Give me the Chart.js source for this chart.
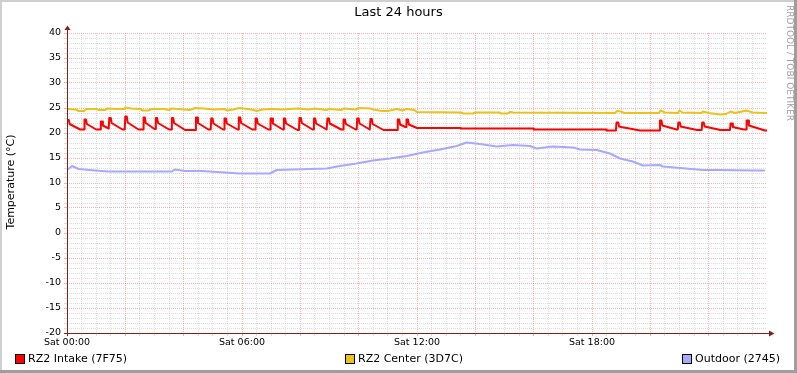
<!DOCTYPE html>
<html>
<head>
<meta charset="utf-8">
<script src="https://cdn.jsdelivr.net/npm/chart.js@4/dist/chart.umd.min.js"></script>
<style>
html,body{margin:0;padding:0;background:#fff;}
canvas{display:block;}
</style>
</head>
<body>
<canvas id="c" width="797" height="373"></canvas>
<script>
// ---- data (hours since Sat 00:00, °C) ----
const chartTitle = "Last 24 hours";
const yAxisTitle = "Temperature (°C)";
const xTickLabels = ["Sat 00:00", "Sat 06:00", "Sat 12:00", "Sat 18:00"];
const seriesNames = ["RZ2 Intake (7F75)", "RZ2 Center (3D7C)", "Outdoor (2745)"];

const intakePoints = [
[0,22.6],[0.06,22.6],[0.09,21.8],[0.45,20.7],
[0.583,20.7],[0.6,22.7],[0.65,22.7],[0.68,21.8],[1.0,20.7],
[1.142,20.7],[1.16,22.3],[1.2,22.3],[1.23,21.5],[1.43,20.9],
[1.45,23.0],[1.5,23.0],[1.53,22.0],[1.9,20.7],
[1.978,20.7],[2.0,23.3],[2.05,23.3],[2.08,22.1],[2.45,20.7],
[2.606,20.7],[2.625,23.1],[2.67,23.1],[2.7,22.0],[3.0,20.8],
[3.027,20.8],[3.045,23.0],[3.09,23.0],[3.12,22.0],[3.5,20.7],
[3.576,20.7],[3.595,23.0],[3.64,23.0],[3.67,22.0],[4.05,20.6],
[4.399,20.6],[4.42,23.1],[4.46,23.1],[4.49,22.0],[4.85,20.7],
[4.927,20.7],[4.945,22.9],[4.99,22.9],[5.02,21.9],[5.35,20.7],
[5.383,20.7],[5.4,22.9],[5.45,22.9],[5.48,21.9],[5.85,20.7],
[5.873,20.7],[5.89,23.1],[5.94,23.1],[5.97,22.0],[6.35,20.7],
[6.446,20.7],[6.465,22.9],[6.51,22.9],[6.54,21.9],[6.9,20.7],
[6.96,20.7],[6.98,22.9],[7.03,22.9],[7.06,21.9],[7.4,20.7],
[7.416,20.7],[7.435,22.9],[7.48,22.9],[7.51,21.9],[7.9,20.6],
[7.954,20.6],[7.97,23.0],[8.02,23.0],[8.05,22.0],[8.42,20.7],
[8.445,20.7],[8.465,22.9],[8.51,22.9],[8.54,21.9],[8.9,20.7],
[8.914,20.7],[8.93,22.9],[8.98,22.9],[9.01,21.9],[9.4,20.7],
[9.463,20.7],[9.48,22.7],[9.53,22.7],[9.56,21.8],[9.9,20.7],
[9.932,20.7],[9.95,22.9],[10.0,22.9],[10.03,21.9],[10.38,20.7],
[10.388,20.7],[10.405,22.8],[10.45,22.8],[10.48,21.8],[10.85,20.6],
[11.324,20.6],[11.34,22.7],[11.39,22.7],[11.42,21.7],[11.6,21.2],
[11.623,21.2],[11.64,22.7],[11.69,22.7],[11.72,21.7],[12.0,21.0],
[13.5,21.0],[13.5,20.9],[16.0,20.9],[16.0,20.7],[18.5,20.7],[18.5,20.5],[18.82,20.5],
[18.84,22.1],[18.9,22.1],[18.93,21.3],[19.0,21.2],[19.65,20.5],
[20.31,20.5],[20.33,22.5],[20.38,22.5],[20.41,21.5],[20.9,20.7],
[20.94,20.7],[20.96,22.1],[21.01,22.1],[21.04,21.3],[21.6,20.6],
[21.76,20.6],[21.78,22.1],[21.83,22.1],[21.86,21.3],[22.4,20.6],
[22.73,20.6],[22.75,21.9],[22.8,21.9],[22.83,21.2],[23.2,20.7],
[23.28,20.7],[23.3,22.5],[23.35,22.5],[23.38,21.5],[23.93,20.5],[24,20.5]
];

const centerPoints = [
[0,24.8],[0.3,24.7],[0.4,24.4],[0.6,24.4],[0.65,24.8],[1.0,24.8],[1.1,24.6],[1.3,24.6],
[1.4,24.9],[1.7,24.8],[1.95,24.8],[2.0,25.1],[2.2,24.9],[2.5,24.8],[2.6,24.5],[2.8,24.5],
[2.9,24.8],[3.3,24.8],[3.5,24.6],[3.6,24.9],[4.0,24.7],[4.2,24.6],[4.4,25.0],[4.7,24.9],
[5.0,24.7],[5.4,24.8],[5.5,24.5],[5.7,24.7],[5.9,25.0],[6.2,24.8],[6.4,24.6],[6.5,24.4],
[6.7,24.7],[7.0,24.8],[7.4,24.7],[7.9,24.9],[8.3,24.7],[8.5,24.9],[8.9,24.6],[9.0,24.8],
[9.4,24.6],[9.5,24.9],[9.9,24.7],[10.0,25.0],[10.4,24.9],[10.5,24.7],[10.8,24.4],[11.0,24.4],
[11.3,24.8],[11.5,24.5],[11.65,24.8],[11.9,24.6],[12.0,24.2],[13.5,24.1],[13.6,23.9],[13.9,23.9],
[14.0,24.1],[14.8,24.1],[14.9,23.9],[15.1,23.9],[15.2,24.2],[15.3,24.1],[18.8,24.0],[18.85,24.4],
[19.0,24.3],[19.1,24.0],[20.3,24.0],[20.35,24.5],[20.5,24.1],[20.95,24.0],[21.0,24.5],[21.1,24.1],
[21.75,24.0],[21.8,24.3],[22.0,24.0],[22.4,23.7],[22.6,23.8],[22.75,24.3],[22.9,24.0],[23.3,24.5],
[23.5,24.1],[24,24.0]
];

const outdoorPoints = [
[0,12.6],[0.17,13.4],[0.4,12.8],[0.97,12.5],[1.43,12.3],[3.6,12.3],[3.7,12.7],[4.05,12.4],
[4.63,12.4],[5.66,12.0],[5.93,11.9],[6.96,11.9],[7.19,12.6],[8.33,12.8],[8.9,12.9],[9.36,13.4],
[9.93,13.9],[10.49,14.5],[11.07,14.9],[11.65,15.4],[12.2,16.1],[12.79,16.7],[13.36,17.4],[13.7,18.1],
[14.16,17.8],[14.73,17.3],[15.29,17.6],[15.87,17.4],[16.1,16.9],[16.66,17.3],[17.35,17.1],[17.59,16.7],
[18.16,16.6],[18.62,15.9],[18.96,14.9],[19.4,14.3],[19.75,13.5],[20.33,13.6],[20.43,13.3],[21.02,13.0],
[21.8,12.6],[22.39,12.6],[23.52,12.5],[23.93,12.5]
];

const seriesColors = ["#FF0000", "#EBC21C", "#A8A8FF"];

// ---- chart ----
const toXY = arr => arr.map(p => ({x: p[0], y: p[1]}));
const FONT = "'DejaVu Sans', sans-serif";
const MINOR = "rgba(150,150,150,0.32)";
const MAJOR = "rgba(225,110,110,0.5)";

const decor = {
  id: "decor",
  afterDraw(chart) {
    const ctx = chart.ctx;
    const ca = chart.chartArea;
    ctx.save();
    // frame shading
    ctx.fillStyle = "#CFCFCF";
    ctx.fillRect(0, 0, 797, 2);
    ctx.fillRect(0, 0, 2, 373);
    ctx.fillStyle = "#9E9E9E";
    ctx.fillRect(0, 370, 797, 3);
    ctx.fillRect(794, 0, 3, 373);
    // axes
    ctx.strokeStyle = "#802020";
    ctx.fillStyle = "#802020";
    ctx.lineWidth = 1;
    ctx.beginPath();
    ctx.moveTo(ca.left + 0.5, ca.bottom + 3);
    ctx.lineTo(ca.left + 0.5, ca.top - 4);
    ctx.moveTo(ca.left - 3, ca.bottom + 0.5);
    ctx.lineTo(ca.right + 4, ca.bottom + 0.5);
    ctx.stroke();
    ctx.beginPath();
    ctx.moveTo(ca.left - 2.5, ca.top - 3);
    ctx.lineTo(ca.left + 3.5, ca.top - 3);
    ctx.lineTo(ca.left + 0.5, ca.top - 7.5);
    ctx.closePath();
    ctx.fill();
    ctx.beginPath();
    ctx.moveTo(ca.right + 2, ca.bottom - 2.5);
    ctx.lineTo(ca.right + 2, ca.bottom + 3.5);
    ctx.lineTo(ca.right + 7.5, ca.bottom + 0.5);
    ctx.closePath();
    ctx.fill();
    // title
    ctx.fillStyle = "#000";
    ctx.font = "13px " + FONT;
    ctx.textAlign = "center";
    ctx.textBaseline = "middle";
    ctx.fillText(chartTitle, 398.5, 13);
    // y axis title
    ctx.save();
    ctx.translate(11, 182);
    ctx.rotate(-Math.PI / 2);
    ctx.font = "11px " + FONT;
    ctx.fillText(yAxisTitle, 0, 0);
    ctx.restore();
    // watermark
    ctx.save();
    ctx.translate(789, 5);
    ctx.rotate(Math.PI / 2);
    ctx.font = "9px " + FONT;
    ctx.fillStyle = "#A0A0A0";
    ctx.textAlign = "left";
    ctx.fillText("RRDTOOL / TOBI OETIKER", 0, 0);
    ctx.restore();
    // legend
    const lx = [15, 345, 682];
    ctx.font = "11px " + FONT;
    ctx.textAlign = "left";
    ctx.textBaseline = "middle";
    for (let i = 0; i < 3; i++) {
      ctx.fillStyle = seriesColors[i];
      ctx.fillRect(lx[i], 354, 9, 9);
      ctx.strokeStyle = "#000";
      ctx.strokeRect(lx[i] + 0.5, 354.5, 9, 9);
      ctx.fillStyle = "#000";
      ctx.fillText(seriesNames[i], lx[i] + 13, 359);
    }
    ctx.restore();
  }
};

new Chart(document.getElementById("c"), {
  type: "line",
  data: {
    datasets: [
      {label: seriesNames[0], data: toXY(intakePoints), borderColor: seriesColors[0]},
      {label: seriesNames[1], data: toXY(centerPoints), borderColor: seriesColors[1]},
      {label: seriesNames[2], data: toXY(outdoorPoints), borderColor: seriesColors[2]}
    ]
  },
  options: {
    responsive: false,
    animation: false,
    devicePixelRatio: 1,
    layout: {padding: {left: 0, top: 33, right: 30, bottom: 20}},
    elements: {
      line: {borderWidth: 2, tension: 0, borderJoinStyle: "round", borderCapStyle: "butt"},
      point: {radius: 0}
    },
    plugins: {legend: {display: false}, title: {display: false}, tooltip: {enabled: false}},
    scales: {
      x: {
        type: "linear", min: 0, max: 24,
        afterFit: s => { s.height = 20; },
        border: {display: false, dash: [1, 1]},
        grid: {
          color: c => (c.tick.value >= 24 ? "rgba(0,0,0,0)" : (c.tick.value % 2 === 0 ? MAJOR : MINOR)),
          tickColor: c => (c.tick.value >= 24 ? "rgba(0,0,0,0)" : (c.tick.value % 2 === 0 ? MAJOR : MINOR)),
          tickLength: 3, lineWidth: 1
        },
        ticks: {
          stepSize: 0.5, maxTicksLimit: 200, autoSkip: false, maxRotation: 0, minRotation: 0,
          padding: 1, color: "#000", font: {family: FONT, size: 9.5},
          callback: v => (v % 6 === 0 && v < 24 ? xTickLabels[v / 6] : "")
        }
      },
      y: {
        type: "linear", min: -20, max: 40,
        afterFit: s => { s.width = 67; },
        border: {display: false, dash: [1, 1]},
        grid: {
          color: c => (c.tick.value % 5 === 0 ? MAJOR : MINOR),
          tickColor: c => (c.tick.value % 5 === 0 ? MAJOR : MINOR),
          tickLength: 3, lineWidth: 1
        },
        ticks: {
          stepSize: 1, maxTicksLimit: 200, autoSkip: false,
          padding: 3, color: "#000", font: {family: FONT, size: 9.5},
          callback: v => (v % 5 === 0 ? String(v) : "")
        }
      }
    }
  },
  plugins: [decor]
});
</script>
</body>
</html>
